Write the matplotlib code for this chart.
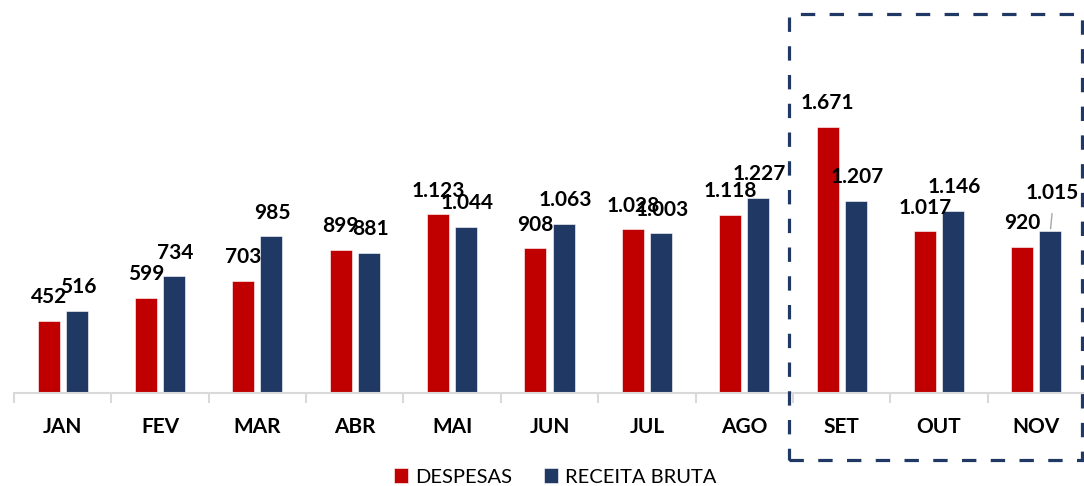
import matplotlib
matplotlib.use("Agg")
import matplotlib.pyplot as plt
import numpy as np
from matplotlib.patches import Rectangle

months = ["JAN", "FEV", "MAR", "ABR", "MAI", "JUN", "JUL", "AGO", "SET", "OUT", "NOV"]
despesas = [452, 599, 703, 899, 1123, 908, 1028, 1118, 1671, 1017, 920]
receita = [516, 734, 985, 881, 1044, 1063, 1003, 1227, 1207, 1146, 1015]

RED = "#C00000"
NAVY = "#203864"

plt.rcParams["font.family"] = ["Lato", "DejaVu Sans"]


def fmt(v):
    # brazilian thousands separator
    return f"{v:,}".replace(",", ".")


fig = plt.figure(figsize=(10.84, 4.86), dpi=100)
ax = fig.add_axes([14 / 1084, 93 / 486, 1071 / 1084, 393 / 486])

x = np.arange(len(months))
off, w = 0.144, 0.226
ax.bar(x - off, despesas, w, color=RED, edgecolor="white", linewidth=0.4, label="DESPESAS")
ax.bar(x + off, receita, w, color=NAVY, edgecolor="white", linewidth=0.4, label="RECEITA BRUTA")

for i in range(len(months)):
    ax.annotate(fmt(despesas[i]), (x[i] - off, despesas[i]), xytext=(0, 17),
                textcoords="offset points", ha="center", va="center",
                fontsize=15, fontweight="bold", color="black")
    dy = 17
    if i == len(months) - 1:
        dy = 28
    ax.annotate(fmt(receita[i]), (x[i] + off, receita[i]), xytext=(1, dy),
                textcoords="offset points", ha="center", va="center",
                fontsize=15, fontweight="bold", color="black")

# leader line for the last label
ax.annotate("", (x[-1] + off, receita[-1]), xytext=(x[-1] + off + 0.02, receita[-1] + 130),
            arrowprops=dict(arrowstyle="-", color="#A6A6A6", lw=1))

ax.set_xlim(-0.5, len(months) - 0.5)
ax.set_ylim(0, 2469)
ax.set_yticks([])
for s in ["top", "right", "left"]:
    ax.spines[s].set_visible(False)
ax.spines["bottom"].set_color("#D9D9D9")
ax.spines["bottom"].set_linewidth(1.5)

ax.set_xticks(np.arange(len(months) + 1) - 0.5, minor=True)
ax.set_xticks(x)
ax.set_xticklabels(months, fontsize=15, fontweight="bold")
ax.tick_params(axis="x", which="major", length=0, pad=17)
ax.tick_params(axis="x", which="minor", length=7, color="#D9D9D9", width=1.5)

ax.legend(loc="center", bbox_to_anchor=(555 / 1084, 9 / 486), bbox_transform=fig.transFigure,
          ncol=2, frameon=False, fontsize=14.5, handlelength=0.7, handleheight=0.7,
          columnspacing=1.6, handletextpad=0.35, borderpad=0)

# dashed box around the highlighted months
box = Rectangle((789 / 1084, 26 / 486), 293 / 1084, 446 / 486, transform=fig.transFigure,
                fill=False, edgecolor=NAVY, linewidth=2.3, linestyle=(0, (4.5, 4.5)),
                clip_on=False)
fig.patches.append(box)

fig.savefig("out.png", dpi=100)
